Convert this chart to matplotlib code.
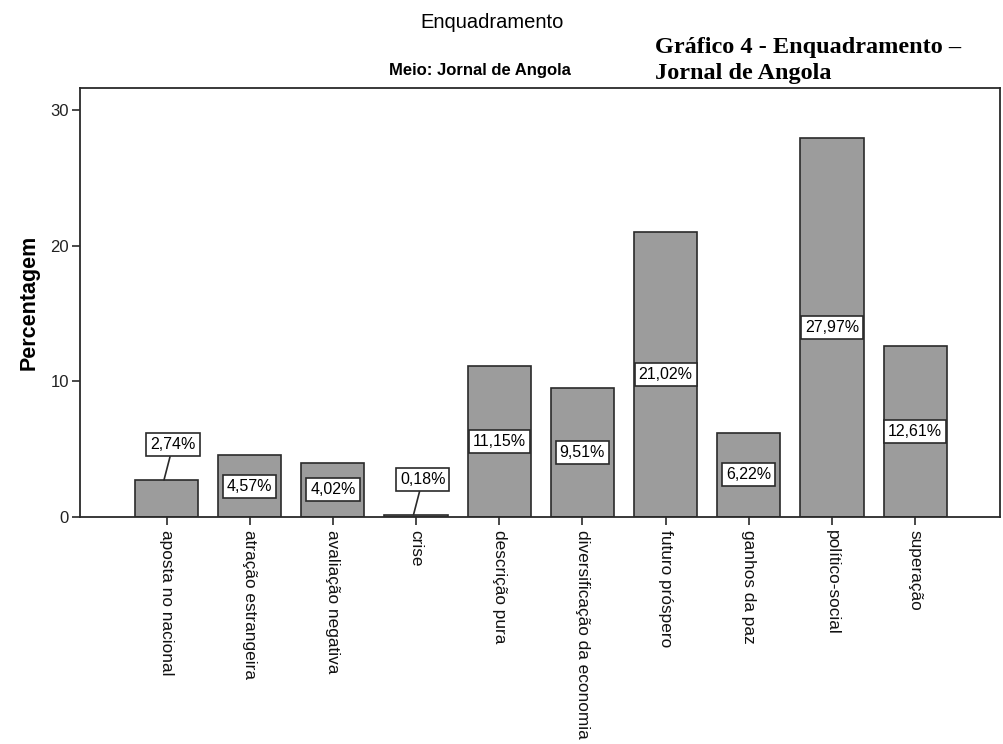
import numpy as np
import matplotlib.pyplot as plt

categories = ['aposta no nacional', 'atração estrangeira', 'avaliação negativa', 'crise',
              'descrição pura', 'diversificação da economia', 'futuro próspero',
              'ganhos da paz', 'político-social', 'superação']
values = [2.74, 4.57, 4.02, 0.18, 11.15, 9.51, 21.02, 6.22, 27.97, 12.61]
yticks = [0, 10, 20, 30]

sans = 'Liberation Sans'
serif = 'Liberation Serif'

fig = plt.figure(figsize=(10.04, 7.44), dpi=100)
ax = fig.add_axes([80 / 1004, 1 - 517 / 744, 920 / 1004, (517 - 88) / 744])

x = np.arange(len(categories))
ax.bar(x, values, width=0.76, color='#9c9c9c', edgecolor='#2a2a2a', linewidth=1.2, zorder=2)

ax.set_xlim(-1.04, 10.02)
ax.set_ylim(0, 31.66)
ax.set_yticks(yticks)
ax.set_yticklabels([str(t) for t in yticks], fontfamily=sans, fontsize=12, color='#222222')
ax.set_xticks(x)
ax.set_xticklabels(categories, rotation=270, fontfamily=sans, fontsize=12.4,
                   va='top', ha='center', color='#111111')
ax.tick_params(axis='both', direction='out', length=6, width=1.2, color='#2a2a2a')
ax.tick_params(axis='x', pad=3)
ax.tick_params(axis='y', pad=2)
for s in ax.spines.values():
    s.set_linewidth(1.3)
    s.set_color('#2a2a2a')

ax.set_ylabel('Percentagem', fontfamily=sans, fontsize=15.5, fontweight='bold', labelpad=8)

box = dict(boxstyle='square,pad=0.25', fc='white', ec='#2a2a2a', lw=1.2)
for xi, v in zip(x, values):
    txt = f'{v:.2f}%'.replace('.', ',')
    if v > 4:
        ax.text(xi, v / 2, txt, ha='center', va='center', fontfamily=sans, fontsize=11.5,
                bbox=box, zorder=4)
    else:
        ax.annotate(txt, xy=(xi - 0.03, v), xytext=(xi + 0.08, v + 2.6),
                    ha='center', va='center', fontfamily=sans, fontsize=11.5, bbox=box,
                    arrowprops=dict(arrowstyle='-', color='#2a2a2a', lw=1.2,
                                    shrinkA=0, shrinkB=0), zorder=4)

fig.text(492 / 1004, 1 - 22 / 744, 'Enquadramento', ha='center', va='center',
         fontfamily=sans, fontsize=14.5)
fig.text(480 / 1004, 1 - 70 / 744, 'Meio: Jornal de Angola', ha='center', va='center',
         fontfamily=sans, fontsize=12, fontweight='bold')
fig.text(655 / 1004, 1 - 48 / 744, 'Gráfico 4 - Enquadramento –', ha='left', va='center',
         fontfamily=serif, fontsize=17.5, fontweight='bold')
fig.text(655 / 1004, 1 - 73 / 744, 'Jornal de Angola', ha='left', va='center',
         fontfamily=serif, fontsize=17.5, fontweight='bold')

fig.savefig('out.png', dpi=100)
